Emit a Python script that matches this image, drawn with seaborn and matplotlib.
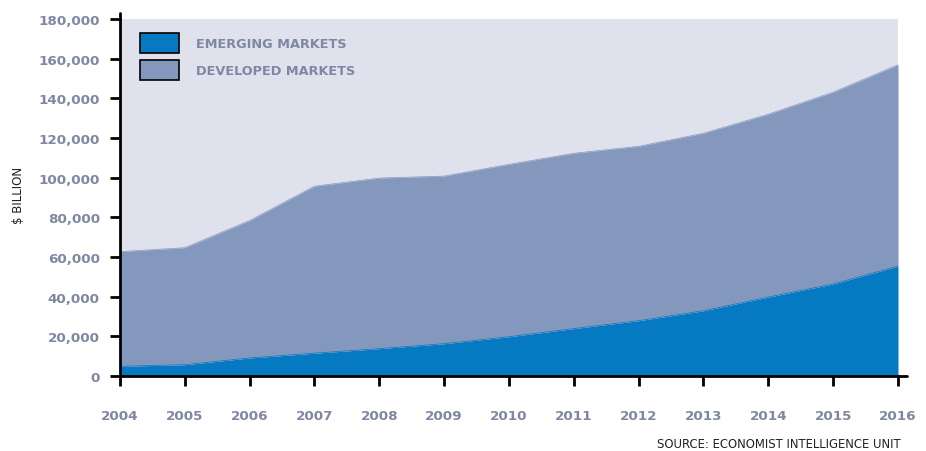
import matplotlib
matplotlib.use("Agg")
import matplotlib.pyplot as plt
from matplotlib.patches import Patch
from matplotlib.lines import Line2D
import seaborn as sns
import pandas as pd

years = [2004, 2005, 2006, 2007, 2008, 2009, 2010, 2011, 2012, 2013, 2014, 2015, 2016]
emerging = [4900, 5700, 9100, 11500, 13800, 16300, 19800, 23900, 27900, 32900, 39800, 46400, 55400]
total = [62700, 64700, 78400, 95700, 99800, 100800, 106700, 112300, 115800, 122400, 132000, 143100, 156900]
developed = [t - e for t, e in zip(total, emerging)]
series_labels = ["EMERGING MARKETS", "DEVELOPED MARKETS"]
y_ticks = [0, 20000, 40000, 60000, 80000, 100000, 120000, 140000, 160000, 180000]

sns.set_theme(style="white")
plt.rcParams['font.family'] = ['DejaVu Sans']

C_EM = "#0579c2"
C_DEV = "#8497bd"
C_BG = "#dfe2ed"
C_TXT = "#7f87a3"

df = pd.DataFrame({"year": years, "emerging": emerging, "developed": developed})
df["total"] = df["emerging"] + df["developed"]

fig = plt.figure(figsize=(9.26, 4.52), dpi=100)
ax = fig.add_axes([120/926, 1-377/452, (898-120)/926, (377-20)/452])
ax.set_facecolor(C_BG)

ax.stackplot(df["year"], df["emerging"], df["developed"], colors=[C_EM, C_DEV], linewidth=0)
sns.lineplot(data=df, x="year", y="total", ax=ax, color=C_DEV, linewidth=0.5)
sns.lineplot(data=df, x="year", y="emerging", ax=ax, color=C_EM, linewidth=0.5)

ax.set_xlim(2004, 2016)
ax.set_ylim(0, 180000)
ax.set_xticks(years)
ax.set_yticks(y_ticks)
ax.set_yticklabels([f"{v:,}" for v in y_ticks])
ax.set_xlabel("")
ax.set_ylabel("")

for s in ["top", "right"]:
    ax.spines[s].set_visible(False)
for s in ["left", "bottom"]:
    ax.spines[s].set_color("black")
    ax.spines[s].set_linewidth(2)
ax.spines["bottom"].set_zorder(5)
ax.spines["left"].set_zorder(5)

# spine extensions
ax.add_line(Line2D([0, 0], [1, 1.017], transform=ax.transAxes, color="black", lw=2, clip_on=False))
ax.add_line(Line2D([1, 1.012], [0, 0], transform=ax.transAxes, color="black", lw=2, clip_on=False))

ax.tick_params(axis="both", which="both", direction="out", length=7, width=2, color="black",
               left=True, bottom=True, labelcolor=C_TXT, labelsize=9.7)
ax.tick_params(axis="y", pad=7.5)
ax.tick_params(axis="x", pad=17)
for lab in ax.get_xticklabels() + ax.get_yticklabels():
    lab.set_fontweight("bold")

fig.text(18/926, 1-195/452, "$ BILLION", rotation=90, ha="center", va="center",
         fontsize=8.5, color="#222222")
fig.text(901/926, 1-445/452, "SOURCE: ECONOMIST INTELLIGENCE UNIT", ha="right", va="center",
         fontsize=8.4, color="#222222")

handles = [Patch(facecolor=C_EM, edgecolor="black", linewidth=1.2),
           Patch(facecolor=C_DEV, edgecolor="black", linewidth=1.2)]
leg = ax.legend(handles, series_labels, loc="upper left", bbox_to_anchor=(0.0257, 0.962),
                frameon=False, borderpad=0, borderaxespad=0,
                handlelength=3.0, handleheight=2.0, handletextpad=1.3,
                labelspacing=0.55, prop={"weight": "bold", "size": 9.3})
for t in leg.get_texts():
    t.set_color(C_TXT)

fig.savefig("out.png", dpi=100)
